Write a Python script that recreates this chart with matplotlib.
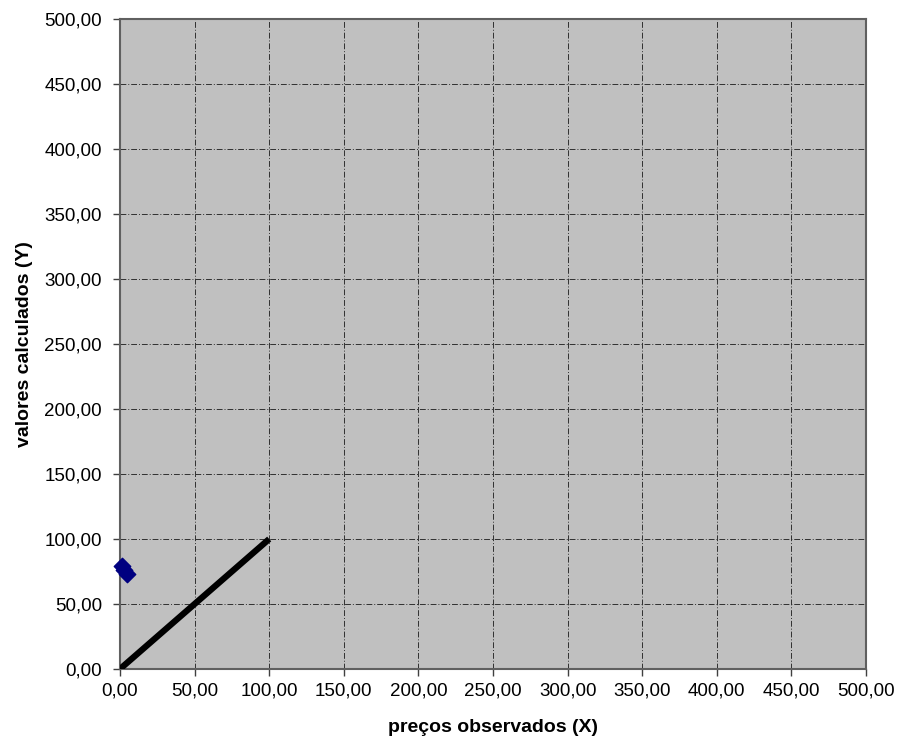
import matplotlib
matplotlib.use('Agg')
import matplotlib.pyplot as plt
from matplotlib.ticker import FuncFormatter

plt.rcParams['font.family'] = ['Liberation Sans', 'DejaVu Sans']

# pontos calculados
x_obs = [1.5, 3.0, 5.0]
y_calc = [79.0, 76.0, 73.0]

# reta de referencia
x_ref = [0, 100]
y_ref = [0, 100]

ticks = [0, 50, 100, 150, 200, 250, 300, 350, 400, 450, 500]

fig = plt.figure(figsize=(8.97, 7.37), dpi=100)
ax = fig.add_axes([120/897, 1 - 669/737, 746/897, 650/737])
ax.set_facecolor('#C0C0C0')

ax.plot(x_ref, y_ref, color='black', linewidth=4.5, solid_capstyle='butt', zorder=3)
ax.scatter(x_obs, y_calc, marker='D', s=70, color='#000080', zorder=4, clip_on=False)

ax.set_xlim(0, 500)
ax.set_ylim(0, 500)
ax.set_xticks(ticks)
ax.set_yticks(ticks)
fmt = FuncFormatter(lambda v, p: f'{v:.2f}'.replace('.', ','))
ax.xaxis.set_major_formatter(fmt)
ax.yaxis.set_major_formatter(fmt)
ax.tick_params(labelsize=13.5, length=5, width=1, color='#404040')
ax.tick_params(axis='x', pad=5)
ax.tick_params(axis='y', pad=8)

ax.grid(True, color='#303030', linestyle=(0, (6, 2, 1, 2)), linewidth=0.7)
ax.set_axisbelow(True)
for s in ax.spines.values():
    s.set_color('#606060')
    s.set_linewidth(1.5)

ax.set_xlabel('preços observados (X)', fontsize=14, fontweight='bold', labelpad=13.5)
ax.set_ylabel('valores calculados (Y)', fontsize=14, fontweight='bold', labelpad=8)

fig.savefig('out.png', dpi=100)
